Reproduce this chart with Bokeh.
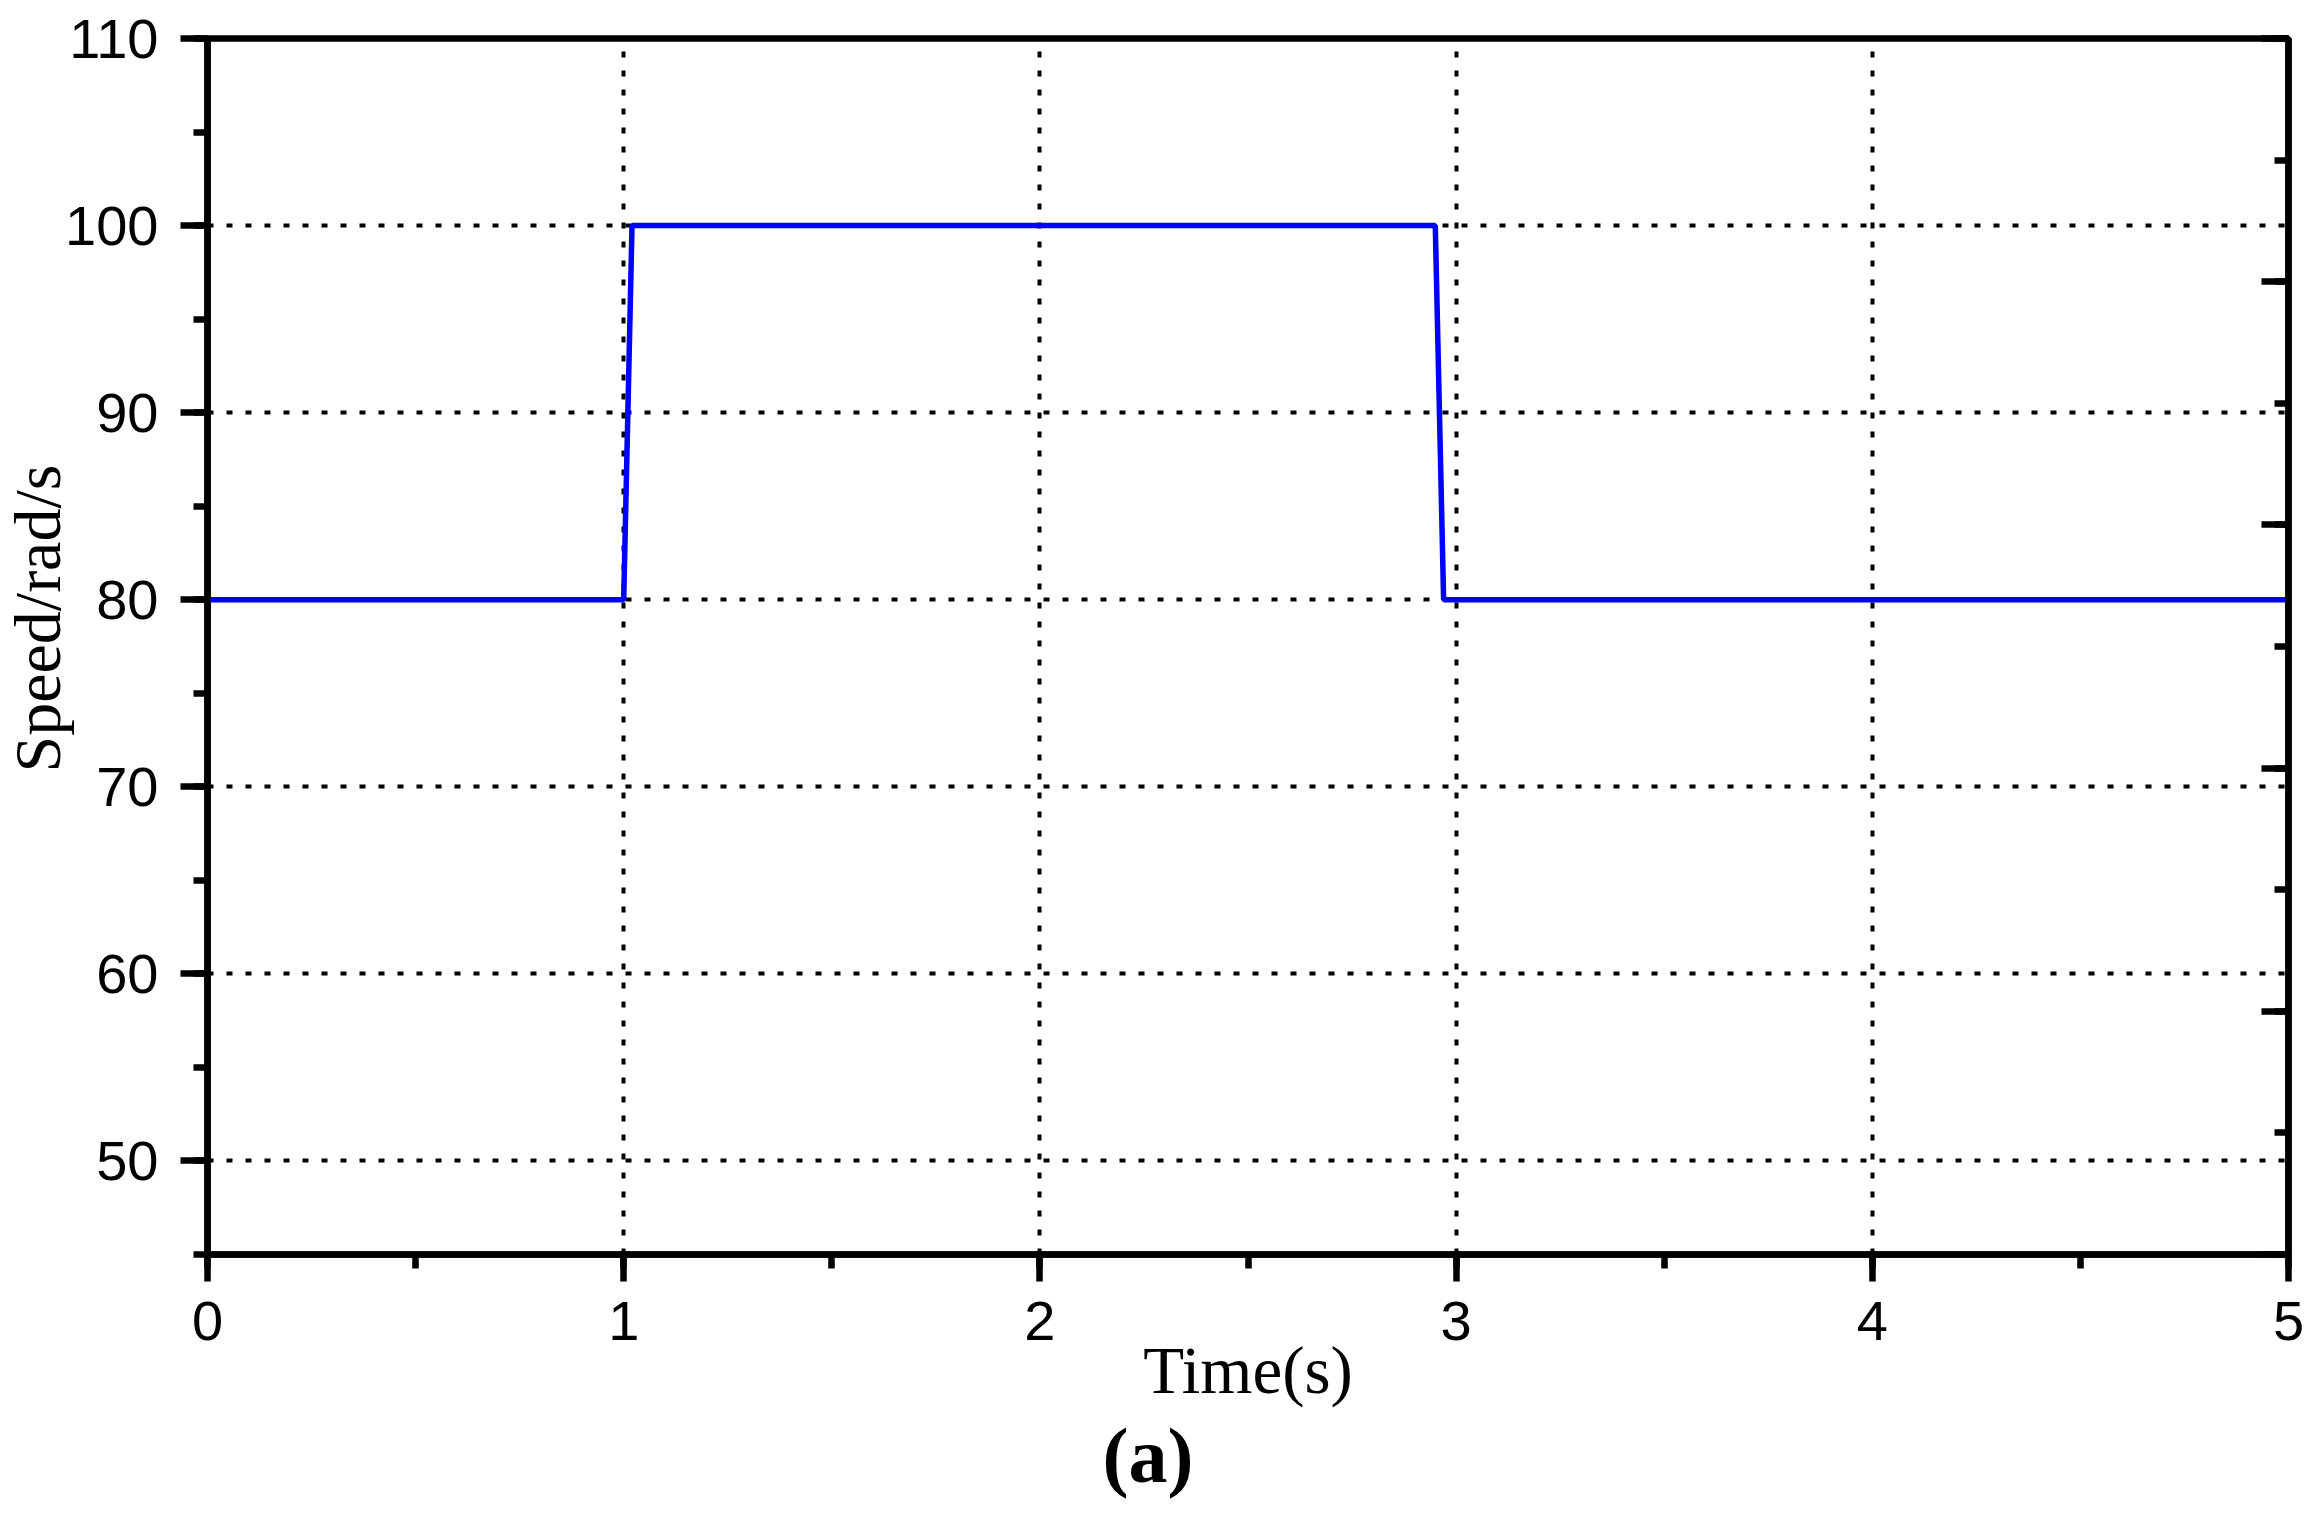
from bokeh.plotting import figure
from bokeh.models import Range1d, LinearAxis, SingleIntervalTicker, Title
from bokeh.embed import file_html
from bokeh.resources import INLINE

# ---- data ----
time_s = [0.0, 1.0, 1.02, 2.95, 2.97, 5.0]
speed = [80, 80, 100, 100, 80, 80]
x_label = "Time(s)"
y_label = "Speed/rad/s"
caption = "(a)"

W = 2306
H = 1508

p = figure(width=W, height=H, output_backend="svg", toolbar_location=None,
           x_range=Range1d(0, 5), y_range=Range1d(45, 110),
           min_border_left=207, min_border_right=W - 207 - 2081, min_border_top=38,
           min_border_bottom=H - 1254,
           background_fill_color="white", border_fill_color="white")

p.outline_line_color = "black"
p.outline_line_width = 6.5
p.outline_line_alpha = 1

xa = p.xaxis[0]
xa.ticker = SingleIntervalTicker(interval=1, num_minor_ticks=2)
ya = p.yaxis[0]
ya.ticker = SingleIntervalTicker(interval=10, num_minor_ticks=2)
for ax in (xa, ya):
    ax.axis_line_width = 6.5
    ax.axis_line_color = "black"
    ax.major_tick_line_width = 6.5
    ax.minor_tick_line_width = 6.5
    ax.major_tick_line_color = "black"
    ax.minor_tick_line_color = "black"
    ax.major_tick_out = 27
    ax.major_tick_in = 0
    ax.minor_tick_out = 14
    ax.minor_tick_in = 0
    ax.major_label_text_font = "Liberation Sans"
    ax.major_label_text_font_size = "56px"
    ax.major_label_text_color = "black"

ya.major_label_standoff = 22
xa.major_label_standoff = 20

xa.axis_label = x_label
xa.axis_label_text_font = "Liberation Serif"
xa.axis_label_text_font_style = "normal"
xa.axis_label_text_font_size = "67px"
xa.axis_label_text_color = "black"
xa.axis_label_standoff = -10

# right axis: inward ticks only
p.extra_y_ranges = {"right": Range1d(0, 1)}
ra = LinearAxis(y_range_name="right",
                ticker=SingleIntervalTicker(interval=0.2, num_minor_ticks=2))
ra.axis_line_width = 6.5
ra.axis_line_color = "black"
ra.major_tick_line_width = 6.5
ra.minor_tick_line_width = 6.5
ra.major_tick_in = 27
ra.major_tick_out = 0
ra.minor_tick_in = 14
ra.minor_tick_out = 0
ra.major_label_text_font_size = "0px"
ra.major_label_text_alpha = 0
ra.major_label_standoff = 0
p.add_layout(ra, "right")

for g in (p.xgrid[0], p.ygrid[0]):
    g.grid_line_color = "black"
    g.grid_line_width = 4
    g.grid_line_dash = "6 13"
    g.grid_line_alpha = 1

p.line(time_s, speed, line_color="#0000ff", line_width=5.5)

# y label as a left title
p.add_layout(Title(text=y_label, align="left", offset=482, standoff=-22,
                   text_font="Liberation Serif", text_font_size="66px",
                   text_font_style="normal", text_color="black"), "left")

# caption below
p.add_layout(Title(text=caption, align="left", offset=895, standoff=0,
                   text_font="Liberation Serif", text_font_size="78px",
                   text_font_style="bold", text_color="black"), "below")

open("out.html", "w").write(file_html(p, INLINE))
